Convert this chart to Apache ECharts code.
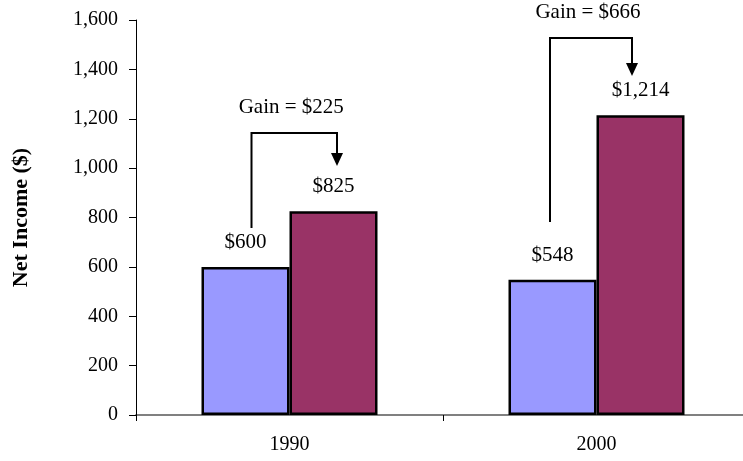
<!DOCTYPE html>
<html>
<head>
<meta charset="utf-8">
<script src="https://cdn.jsdelivr.net/npm/echarts@6/dist/echarts.min.js"></script>
<style>
html,body{margin:0;padding:0;background:#fff;}
#chart{width:743px;height:461px;}
</style>
</head>
<body>
<div id="chart"></div>
<script>
// ---- data ----
const categories = ['1990', '2000'];
const seriesBefore = [600, 548];
const seriesAfter = [825, 1214];
const yMin = 0, yMax = 1600, yStep = 200;
// annotation arrows (in data units: value axis)
const arrowBase = [757, 782];
const arrowTop = [1142, 1527];
const arrowTip = [1009, 1373];
const gains = seriesAfter.map((v, i) => v - seriesBefore[i]);

// ---- styling ----
const FONT = 'Liberation Serif, Times New Roman, serif';
const arrowDxLeft = [-38, -46.5];
const arrowDxRight = [47.5, 35.5];

function money(v) { return '$' + v.toLocaleString('en-US'); }

const chart = echarts.init(document.getElementById('chart'), null, {renderer: 'canvas'});
chart.setOption({
  animation: false,
  backgroundColor: '#ffffff',
  grid: {left: 136, width: 614, top: 20, bottom: 46, containLabel: false, outerBoundsMode: 'none'},
  xAxis: {
    type: 'category',
    data: categories,
    boundaryGap: true,
    axisLine: {show: true, lineStyle: {color: '#808080', width: 2}},
    axisTick: {show: true, length: 6, lineStyle: {color: '#000', width: 1}},
    axisLabel: {color: '#000', fontFamily: FONT, fontSize: 20, margin: 20},
    splitLine: {show: false},
    z: 1
  },
  yAxis: {
    type: 'value',
    min: yMin, max: yMax, interval: yStep,
    name: 'Net Income ($)',
    nameLocation: 'middle',
    nameGap: 104,
    nameTextStyle: {color: '#000', fontFamily: FONT, fontSize: 22, fontWeight: 'bold'},
    axisLine: {show: true, lineStyle: {color: '#000', width: 1}},
    axisTick: {show: true, length: 7, lineStyle: {color: '#000', width: 1}},
    axisLabel: {color: '#000', fontFamily: FONT, fontSize: 20, margin: 18,
      formatter: v => v.toLocaleString('en-US')},
    splitLine: {show: false},
    z: 3
  },
  series: [
    {
      type: 'bar', data: seriesBefore, barWidth: 88, barGap: '0%',
      itemStyle: {color: '#9999FF', borderColor: '#000', borderWidth: 2.5},
      label: {show: true, position: 'top', distance: 14, color: '#000',
        fontFamily: FONT, fontSize: 21, formatter: p => money(p.value)},
      z: 2
    },
    {
      type: 'bar', data: seriesAfter, barWidth: 88, barGap: '0%',
      itemStyle: {color: '#993366', borderColor: '#000', borderWidth: 2.5},
      label: {show: true, position: 'top', distance: 14, color: '#000',
        fontFamily: FONT, fontSize: 21, formatter: p => money(p.value)},
      z: 2
    },
    {
      type: 'custom',
      clip: false,
      z: 5,
      encode: {x: 0, y: [1, 2, 3]},
      data: categories.map((c, i) => [i, arrowBase[i], arrowTop[i], arrowTip[i]]),
      renderItem: function (params, api) {
        const i = api.value(0);
        const b = api.coord([i, api.value(1)]);
        const t = api.coord([i, api.value(2)]);
        const p = api.coord([i, api.value(3)]);
        const xl = b[0] + arrowDxLeft[i];
        const xr = b[0] + arrowDxRight[i];
        const head = 13;
        return {
          type: 'group',
          children: [
            {type: 'polyline', shape: {points: [[xl, b[1]], [xl, t[1]], [xr, t[1]], [xr, p[1] - head]]},
             style: {stroke: '#000', lineWidth: 2, fill: null}},
            {type: 'polygon', shape: {points: [[xr - 6, p[1] - head], [xr + 6, p[1] - head], [xr, p[1]]]},
             style: {fill: '#000', stroke: null}},
            {type: 'text', x: (xl + xr) / 2 - 3, y: t[1] - 26,
             style: {text: 'Gain = ' + money(gains[i]), font: '21px ' + FONT, fill: '#000',
                     align: 'center', verticalAlign: 'middle'}}
          ]
        };
      }
    }
  ]
});
</script>
</body>
</html>
